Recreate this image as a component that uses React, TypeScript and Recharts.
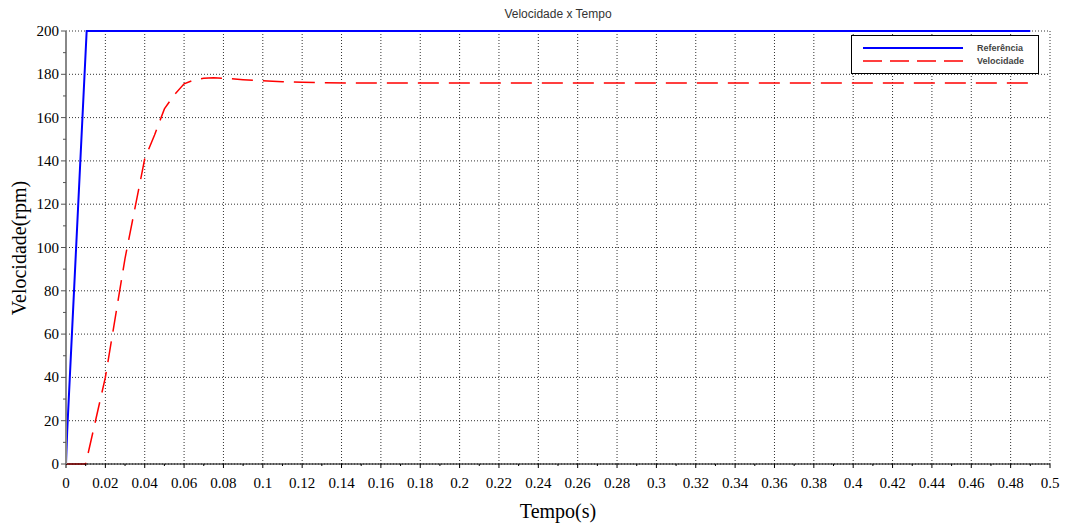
import { LineChart, Line, XAxis, YAxis, CartesianGrid, Label } from 'recharts';

// Reference speed step (rpm) over time (s)
const refTime = [0, 0.0006, 0.0105, 0.49];
const refSpeed = [0, 15, 200, 200];

// Measured motor speed (rpm) over time (s)
const velTime = [0, 0.01, 0.02, 0.03, 0.04, 0.045, 0.05, 0.055, 0.06, 0.065, 0.07, 0.075, 0.08, 0.09, 0.1, 0.11, 0.12, 0.13, 0.15, 0.49];
const velSpeed = [0, 0, 40, 95, 141, 152, 164, 170.5, 175.6, 177.4, 178.2, 178.4, 178.2, 177.5, 177, 176.6, 176.3, 176.1, 176, 176];

const xTicks = Array.from({ length: 51 }, (_, i) => i / 100);
const xMajor = xTicks.filter((_, i) => i % 2 === 0);
const yTicks = Array.from({ length: 21 }, (_, i) => i * 10);
const yMajor = yTicks.filter((v) => v % 20 === 0);

const refData = refTime.map((t, i) => ({ t, v: refSpeed[i] }));
const velData = velTime.map((t, i) => ({ t, v: velSpeed[i] }));

const serif = '"Liberation Serif", "Times New Roman", serif';
const sans = '"Liberation Sans", Arial, sans-serif';

const legendItems = [
  { label: 'Referência', color: '#0000ff', dash: undefined, width: 2 },
  { label: 'Velocidade', color: '#ff0000', dash: '19 8', width: 1.5 },
];

function XTick({ x, y, payload }: any) {
  const k = Math.round(payload.value * 100);
  const major = k % 2 === 0;
  return (
    <g>
      <line x1={x} x2={x} y1={y} y2={y + (major ? 4 : 2)} stroke="#000" />
      {major && (
        <text x={x} y={y + 24} textAnchor="middle" fontFamily={serif} fontSize={15} fill="#000">
          {String(Number(payload.value.toFixed(2)))}
        </text>
      )}
    </g>
  );
}

function YTick({ x, y, payload }: any) {
  const major = payload.value % 20 === 0;
  return (
    <g>
      <line x1={x - (major ? 5 : 3)} x2={x} y1={y} y2={y} stroke="#555" />
      {major && (
        <text x={x - 7} y={y + 5} textAnchor="end" fontFamily={serif} fontSize={15} fill="#000">
          {payload.value}
        </text>
      )}
    </g>
  );
}

export default function App() {
  return (
    <div style={{ position: 'absolute', left: 0, top: 0, width: 1065, height: 524, background: '#fff' }}>
      <div
        style={{
          position: 'absolute',
          left: 0,
          top: 7,
          width: 1116,
          textAlign: 'center',
          fontFamily: sans,
          fontSize: 12,
          color: '#333',
        }}
      >
        Velocidade x Tempo
      </div>
      <LineChart width={1065} height={524} margin={{ top: 31, right: 15, bottom: 0, left: 0 }}>
        <CartesianGrid
          verticalValues={xMajor}
          horizontalValues={yMajor}
          stroke="#333"
          strokeDasharray="1 2"
        />
        <XAxis
          dataKey="t"
          type="number"
          domain={[0, 0.5]}
          ticks={xTicks}
          interval={0}
          height={60}
          tickSize={0}
          tickMargin={0}
          tickLine={false}
          tick={<XTick />}
          axisLine={{ stroke: '#000' }}
        >
          <Label
            content={() => (
              <text x={558} y={518} textAnchor="middle" fontFamily={serif} fontSize={20} fill="#000">
                Tempo(s)
              </text>
            )}
          />
        </XAxis>
        <YAxis
          type="number"
          domain={[0, 200]}
          ticks={yTicks}
          interval={0}
          width={66}
          tickSize={0}
          tickMargin={0}
          tickLine={false}
          tick={<YTick />}
          axisLine={{ stroke: '#888', strokeWidth: 2 }}
        >
          <Label
            content={() => (
              <text
                x={19}
                y={248}
                transform="rotate(-90, 19, 248)"
                textAnchor="middle"
                dominantBaseline="central"
                fontFamily={serif}
                fontSize={20}
                fill="#000"
              >
                Velocidade(rpm)
              </text>
            )}
          />
        </YAxis>
        <Line
          data={refData}
          dataKey="v"
          type="linear"
          stroke="#0000ff"
          strokeWidth={2}
          dot={false}
          activeDot={false}
          isAnimationActive={false}
          name="Referência"
        />
        <Line
          data={velData}
          dataKey="v"
          type="linear"
          stroke="#ff0000"
          strokeWidth={1.5}
          strokeDasharray="21 10"
          dot={false}
          activeDot={false}
          isAnimationActive={false}
          name="Velocidade"
        />
      </LineChart>
      <div
        style={{
          position: 'absolute',
          left: 851,
          top: 35,
          width: 186,
          height: 37,
          border: '1px solid #000',
          background: '#fff',
        }}
      >
        <svg width={186} height={37}>
          {legendItems.map((item, i) => (
            <g key={item.label}>
              <line
                x1={11}
                x2={111}
                y1={12 + i * 13}
                y2={12 + i * 13}
                stroke={item.color}
                strokeWidth={item.width}
                strokeDasharray={item.dash}
              />
              <text
                x={125}
                y={15 + i * 13}
                fontFamily={sans}
                fontSize={9}
                fontWeight="bold"
                fill="#444"
              >
                {item.label}
              </text>
            </g>
          ))}
        </svg>
      </div>
    </div>
  );
}
